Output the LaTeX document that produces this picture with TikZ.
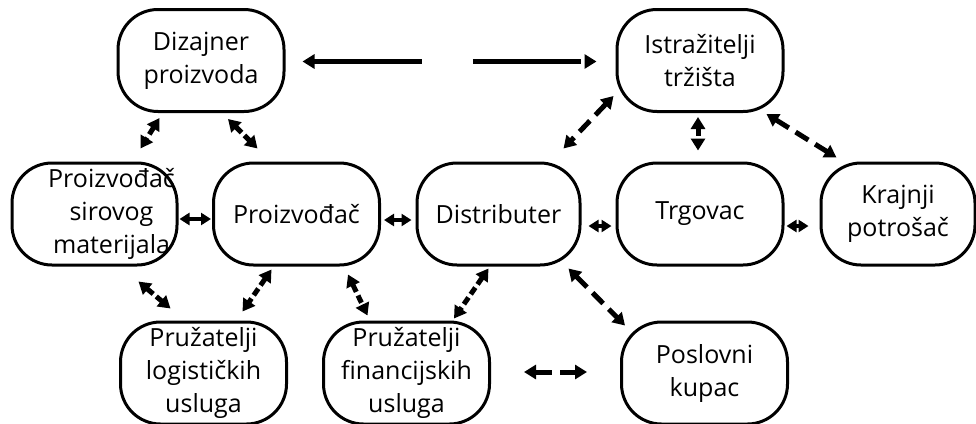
\documentclass[tikz,border=0pt]{standalone}
\usepackage{fontspec}
\setmainfont{Open Sans}
\usetikzlibrary{arrows.meta,calc}

\begin{document}
\begin{tikzpicture}[
        x=1pt, y=-1pt,
        actor/.style={
            draw,
            line width=3pt,
            rounded corners=40pt,
            minimum width=166pt,
            minimum height=102pt,
            inner sep=0pt,
            align=center,
            font=\fontsize{25}{33}\selectfont
        },
        link/.style={
            line width=5pt,
            >={Triangle[length=12pt,width=14pt]},
            <->
        },
        short link/.style={
            line width=4pt,
            >={Triangle[length=10pt,width=12pt]},
            <->
        },
        fine dash/.style={dash pattern=on 8pt off 4pt},
        wide dash/.style={dash pattern=on 15pt off 8pt}
    ]

        \clip (0,0) rectangle (976,423);

        \node[actor] (dizajner) at (201,60.5) {Dizajner\\proizvoda};
        \node[actor] (istrazitelji) at (700,60.5) {Istražitelji\\tržišta};

        \node[actor, minimum width=165pt] (sirovine) at (94.5,214)
            {\hspace*{34pt}Proizvođač\\\hspace*{34pt}sirovog\\\hspace*{34pt}materijala};
        \node[actor] (proizvodjac) at (296.5,214) {Proizvođač};
        \node[actor, minimum width=163pt] (distributer) at (498.5,214) {Distributer};
        \node[actor] (trgovac) at (700,214) {Trgovac};
        \node[actor, minimum width=154pt] (potrosac) at (898,214) {Krajnji\\potrošač};

        \node[actor] (logistika) at (203.5,373) {Pružatelji\\logističkih\\usluga};
        \node[actor] (financije) at (406.5,373) {Pružatelji\\financijskih\\usluga};
        \node[actor] (kupac) at (704.5,373) {Poslovni\\kupac};

        % top row
        \draw[link, dash pattern=on 108pt off 51pt]
            ($(dizajner.east)+(17,1)$) -- ($(istrazitelji.west)+(-19,1)$);
        \draw[link, fine dash]
            ($(dizajner.south west)+(43,5)$) -- ($(sirovine.north)+(46,-13)$);
        \draw[link, fine dash]
            ($(dizajner.south)+(27,6)$) -- ($(proizvodjac.north)+(-39,-13)$);
        \draw[link, wide dash]
            ($(istrazitelji.south west)+(-2,-17)$) -- ($(distributer.north east)+(-18,-13)$);
        \draw[link, fine dash]
            ($(istrazitelji.south)+(-2,4)$) -- ($(trgovac.north)+(-2,-11)$);
        \draw[link, wide dash]
            ($(istrazitelji.south east)+(-18,1)$) -- ($(potrosac.north west)+(17,-4)$);

        % middle row
        \draw[short link] ($(sirovine.east)+(1,5)$) -- ($(proizvodjac.west)+(-1,5)$);
        \draw[short link] ($(proizvodjac.east)+(3,6)$) -- ($(distributer.west)+(-4,6)$);
        \draw[short link] ($(distributer.east)+(7,12)$) -- ($(trgovac.west)+(-4,12)$);
        \draw[short link] ($(trgovac.east)+(2,12)$) -- ($(potrosac.west)+(-11,12)$);

        % bottom row
        \draw[link, fine dash]
            ($(sirovine.south)+(44,15)$) -- ($(logistika.north)+(-33,-12)$);
        \draw[link, fine dash]
            ($(proizvodjac.south)+(-25,3)$) -- ($(logistika.north)+(39,-9)$);
        \draw[link, fine dash]
            ($(proizvodjac.south east)+(-33,8)$) -- ($(financije.north)+(-39,-5)$);
        \draw[link, fine dash]
            ($(distributer.south)+(-10,2)$) -- ($(financije.north east)+(-37,-2)$);
        \draw[link, wide dash]
            ($(distributer.south east)+(-13,2)$) -- ($(kupac.north west)+(5,5)$);
        \draw[link, dash pattern=on 17pt off 8pt]
            ($(financije.east)+(33,-1)$) -- ($(kupac.west)+(-33,-1)$);

\end{tikzpicture}
\end{document}
